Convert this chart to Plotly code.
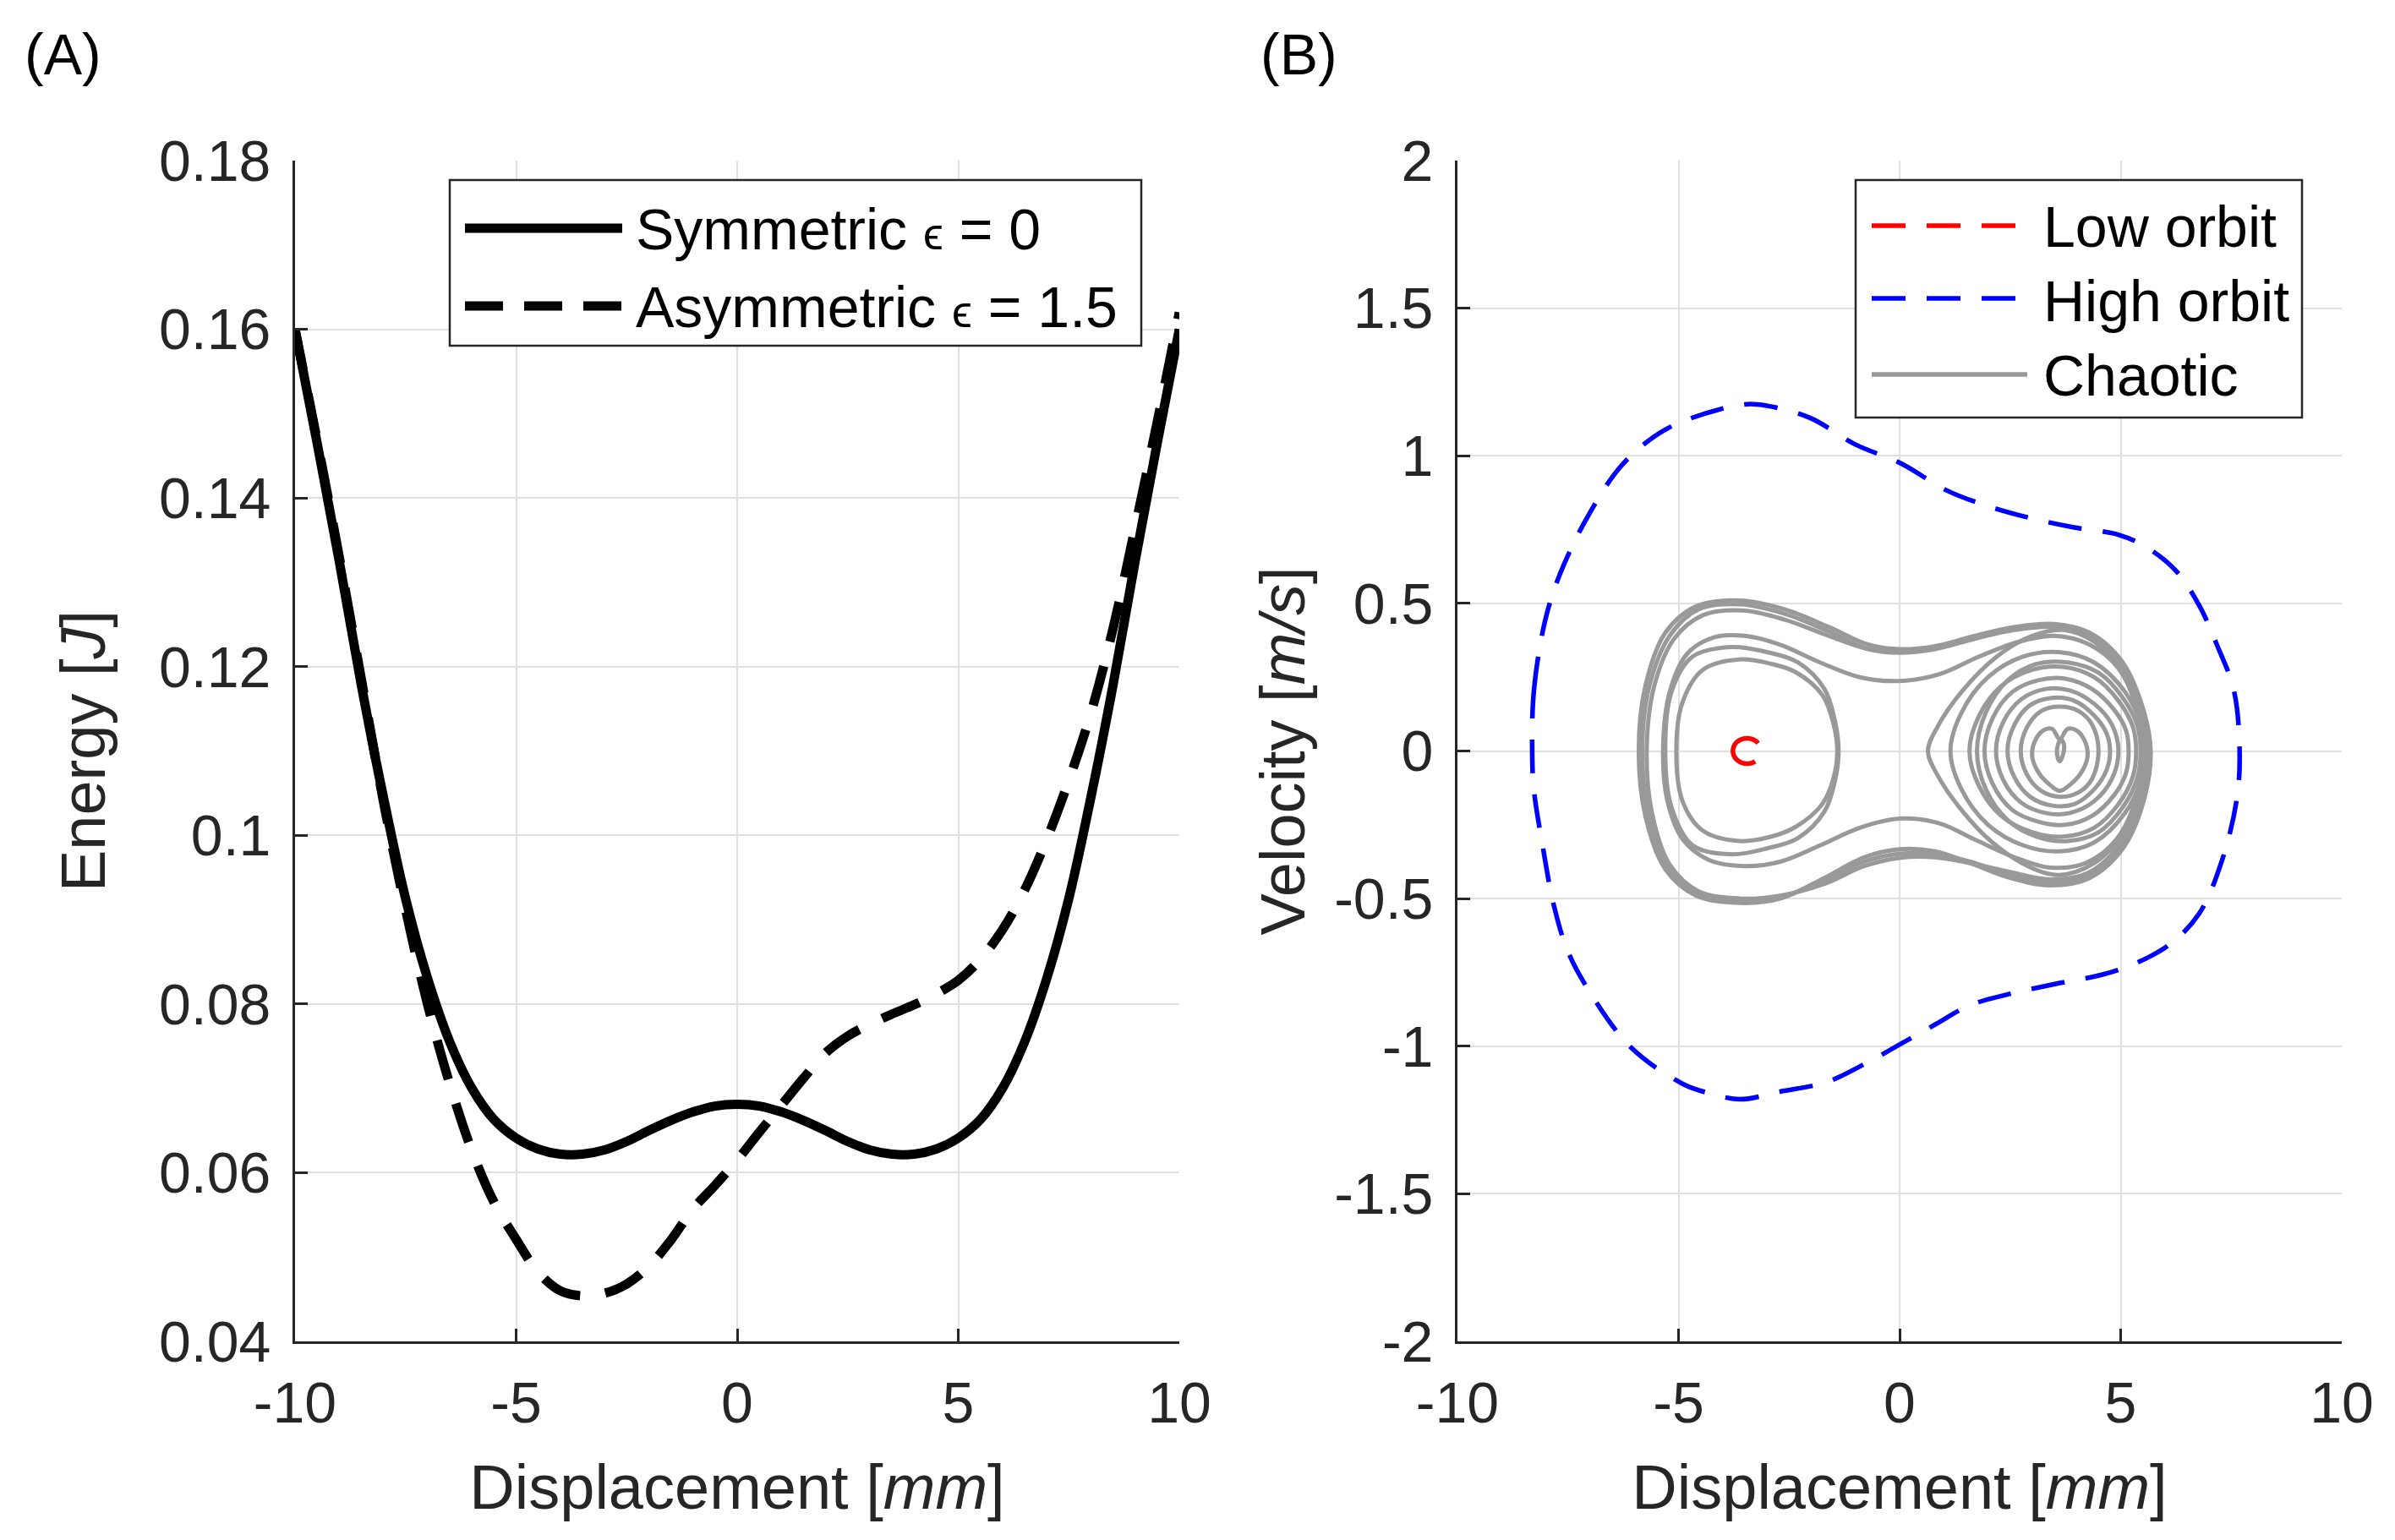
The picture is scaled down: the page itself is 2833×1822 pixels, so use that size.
import plotly.graph_objects as go

# ---------------- DATA ----------------
# Panel (A): potential energy vs displacement
disp_grid = [-10, -9.5, -9, -8.5, -8, -7.5, -7, -6.5, -6, -5.5, -5, -4.5, -4, -3.5, -3, -2.5, -2, -1.5, -1, -0.5,
             0, 0.5, 1, 1.5, 2, 2.5, 3, 3.5, 4, 4.5, 5, 5.5, 6, 6.5, 7, 7.5, 8, 8.5, 9, 9.5, 10]
energy_sym = [0.160, 0.1465, 0.1325, 0.1178, 0.1045, 0.0925, 0.0830, 0.0755, 0.0700, 0.0663, 0.0641, 0.0628,
              0.0622, 0.0622, 0.0627, 0.0637, 0.0650, 0.0662, 0.0672, 0.0679,
              0.0681, 0.0679, 0.0672, 0.0662, 0.0650, 0.0637, 0.0627, 0.0622, 0.0622, 0.0628, 0.0641,
              0.0663, 0.0700, 0.0755, 0.0830, 0.0925, 0.1045, 0.1178, 0.1325, 0.1465, 0.160]
energy_asym = [0.160, 0.1468, 0.1330, 0.1185, 0.1040, 0.0912, 0.0799, 0.0705, 0.0626, 0.0565, 0.0521, 0.0482,
               0.0460, 0.0454, 0.0457, 0.0468, 0.0489, 0.0520, 0.0557, 0.0585,
               0.0615, 0.0648, 0.0680, 0.0712, 0.0742, 0.0762, 0.0776, 0.0788, 0.0799, 0.0812, 0.0828,
               0.0853, 0.0888, 0.0935, 0.0995, 0.1065, 0.1145, 0.1245, 0.1365, 0.1490, 0.1620]

# Panel (B): phase portraits (displacement mm, velocity m/s)
low_x = [-3.695, -3.751, -3.77, -3.751, -3.695, -3.61, -3.506, -3.394, -3.29, -3.205, -3.149, -3.13,
         -3.149, -3.205, -3.29, -3.394, -3.506, -3.61, -3.695]
low_v = [0.028, 0.0147, 0.0, -0.0147, -0.0276, -0.0372, -0.0423, -0.0423, -0.0372, -0.0276, -0.0147, 0.0,
         0.0147, 0.0276, 0.0372, 0.0423, 0.0423, 0.0372, 0.028]

high_x = [-8.31, -8.27, -8.02, -7.69, -7.11, -6.33, -5.55, -4.90, -3.73, -3.22, -2.05, -1.01, 0.03, 1.06, 1.97,
          2.88, 3.92, 4.96, 5.61, 6.26, 6.78, 7.17, 7.56, 7.69, 7.63, 7.30, 6.78, 6.12, 5.34, 4.57, 3.53, 2.49,
          1.58, 0.80, 0.03, -0.75, -1.66, -2.70, -3.61, -4.26, -4.90, -6.07, -6.98, -7.50, -7.82, -8.08, -8.27,
          -8.31]
high_v = [0.0, 0.206, 0.44, 0.596, 0.779, 0.96, 1.065, 1.117, 1.169, 1.174, 1.13, 1.039, 0.974, 0.883, 0.831,
          0.792, 0.758, 0.732, 0.688, 0.609, 0.492, 0.362, 0.206, 0.0, -0.159, -0.367, -0.55, -0.654, -0.719,
          -0.758, -0.789, -0.823, -0.862, -0.927, -0.992, -1.057, -1.122, -1.154, -1.18, -1.161, -1.128, -1.005,
          -0.823, -0.68, -0.523, -0.315, -0.133, 0.0]

# Chaotic trajectory, read loop by loop
outer1_x = [-5.90, -5.75, -5.30, -4.60, -3.60, -2.60, -1.60, -0.70, 0.00, 0.80, 1.70, 2.60, 3.50, 4.30, 5.00, 5.45,
            5.68, 5.50, 5.05, 4.30, 3.40, 2.50, 1.60, 0.80, 0.00, -0.80, -1.70, -2.70, -3.60, -4.60, -5.30, -5.75,
            -5.90]
outer1_v = [0.00, 0.22, 0.40, 0.49, 0.51, 0.48, 0.42, 0.36, 0.345, 0.355, 0.39, 0.42, 0.43, 0.40, 0.31, 0.17,
            0.00, -0.18, -0.33, -0.43, -0.455, -0.43, -0.38, -0.34, -0.333, -0.36, -0.43, -0.50, -0.515, -0.49,
            -0.40, -0.22, 0.00]
outer2_x = [-5.82, -5.66, -5.20, -4.55, -3.60, -2.60, -1.60, -0.70, 0.00, 0.80, 1.70, 2.60, 3.50, 4.30, 4.98, 5.40,
            5.60, 5.45, 5.00, 4.30, 3.40, 2.50, 1.60, 0.80, 0.00, -0.80, -1.70, -2.70, -3.60, -4.60, -5.25, -5.68,
            -5.82]
outer2_v = [0.00, 0.22, 0.39, 0.48, 0.497, 0.465, 0.405, 0.345, 0.333, 0.345, 0.38, 0.41, 0.42, 0.39, 0.30, 0.16,
            0.00, -0.17, -0.32, -0.42, -0.445, -0.42, -0.375, -0.35, -0.348, -0.375, -0.44, -0.495, -0.505, -0.48,
            -0.39, -0.21, 0.00]
outer3_x = [-5.72, -5.55, -5.10, -4.45, -3.55, -2.60, -1.60, -0.70, 0.00, 0.80, 1.70, 2.60, 3.50, 4.30, 4.95, 5.38,
            5.58, 5.42, 4.98, 4.30, 3.40, 2.50, 1.60, 0.80, 0.00, -0.80, -1.70, -2.70, -3.60, -4.55, -5.20, -5.60,
            -5.72]
outer3_v = [0.00, 0.22, 0.38, 0.46, 0.476, 0.445, 0.39, 0.345, 0.338, 0.35, 0.385, 0.412, 0.422, 0.395, 0.305,
            0.165, 0.00, -0.17, -0.315, -0.41, -0.435, -0.41, -0.38, -0.36, -0.362, -0.39, -0.45, -0.49, -0.50,
            -0.475, -0.385, -0.21, 0.00]
middle_x = [-5.35, -5.20, -4.80, -4.20, -3.50, -2.70, -1.80, -0.90, 0.00, 0.90, 1.80, 2.70, 3.50, 4.30, 4.95, 5.35,
            5.50, 5.35, 4.90, 4.20, 3.40, 2.60, 1.70, 0.90, 0.00, -0.90, -1.80, -2.70, -3.50, -4.30, -4.90, -5.25,
            -5.35]
middle_v = [0.00, 0.20, 0.33, 0.385, 0.39, 0.36, 0.30, 0.25, 0.237, 0.26, 0.32, 0.37, 0.39, 0.36, 0.28, 0.15,
            0.00, -0.16, -0.30, -0.38, -0.395, -0.36, -0.30, -0.245, -0.229, -0.26, -0.32, -0.375, -0.39, -0.37,
            -0.30, -0.17, 0.00]
left1_x = [-5.05, -4.91, -4.45, -3.63, -2.90, -2.35, -1.75, -1.50, -1.41, -1.50, -1.75, -2.35, -2.90, -3.63, -4.45,
           -4.91, -5.05]
left1_v = [0.00, 0.165, 0.275, 0.31, 0.295, 0.267, 0.19, 0.095, 0.00, -0.095, -0.18, -0.257, -0.29, -0.305, -0.27,
           -0.17, 0.00]
left2_x = [-5.30, -5.16, -4.68, -3.80, -3.00, -2.30, -1.70, -1.46, -1.38, -1.46, -1.70, -2.30, -3.00, -3.80, -4.68,
           -5.16, -5.30]
left2_v = [0.00, 0.20, 0.32, 0.352, 0.335, 0.30, 0.21, 0.10, 0.00, -0.10, -0.205, -0.295, -0.33, -0.35, -0.32,
           -0.19, 0.00]
right1_x = [0.64, 0.85, 1.40, 2.20, 3.00, 3.70, 4.40, 5.05, 5.50, 5.62, 5.50, 5.05, 4.40, 3.60, 2.90, 2.10, 1.40,
            0.85, 0.64]
right1_v = [0.00, 0.08, 0.20, 0.32, 0.39, 0.41, 0.37, 0.27, 0.13, 0.00, -0.14, -0.28, -0.38, -0.42, -0.39, -0.31,
            -0.20, -0.08, 0.00]
right2_x = [1.15, 1.40, 2.00, 2.80, 3.60, 4.40, 5.10, 5.45, 5.52, 5.45, 5.10, 4.40, 3.60, 2.80, 2.00, 1.40, 1.15]
right2_v = [0.00, 0.13, 0.25, 0.32, 0.335, 0.30, 0.20, 0.09, 0.00, -0.10, -0.21, -0.31, -0.34, -0.32, -0.25, -0.13,
            0.00]
right3_x = [1.58, 1.80, 2.30, 3.00, 3.70, 4.40, 4.95, 5.28, 5.35, 5.28, 4.95, 4.40, 3.70, 3.00, 2.30, 1.80, 1.58]
right3_v = [0.00, 0.12, 0.22, 0.275, 0.285, 0.25, 0.17, 0.08, 0.00, -0.085, -0.18, -0.26, -0.29, -0.275, -0.22,
            -0.12, 0.00]
right3b_x = [1.75, 1.95, 2.45, 3.10, 3.80, 4.50, 5.05, 5.38, 5.45, 5.38, 5.05, 4.50, 3.80, 3.10, 2.45, 1.95, 1.75]
right3b_v = [0.00, 0.13, 0.24, 0.295, 0.30, 0.265, 0.18, 0.085, 0.00, -0.09, -0.19, -0.275, -0.305, -0.29, -0.235,
             -0.13, 0.00]
right4_x = [1.92, 2.10, 2.55, 3.15, 3.75, 4.35, 4.85, 5.12, 5.18, 5.12, 4.85, 4.35, 3.75, 3.15, 2.55, 2.10, 1.92]
right4_v = [0.00, 0.11, 0.20, 0.24, 0.245, 0.21, 0.14, 0.07, 0.00, -0.075, -0.15, -0.22, -0.25, -0.24, -0.20,
            -0.11, 0.00]
right5_x = [2.18, 2.35, 2.75, 3.30, 3.85, 4.40, 4.80, 4.95, 4.80, 4.40, 3.85, 3.30, 2.75, 2.35, 2.18]
right5_v = [0.00, 0.10, 0.175, 0.21, 0.205, 0.16, 0.09, 0.00, -0.095, -0.17, -0.21, -0.21, -0.175, -0.10, 0.00]
right6_x = [2.44, 2.60, 2.95, 3.45, 3.95, 4.40, 4.68, 4.76, 4.68, 4.40, 3.95, 3.45, 2.95, 2.60, 2.44]
right6_v = [0.00, 0.09, 0.155, 0.18, 0.17, 0.12, 0.06, 0.00, -0.065, -0.13, -0.18, -0.185, -0.155, -0.09, 0.00]
right7_x = [2.74, 2.88, 3.20, 3.62, 4.05, 4.35, 4.50, 4.35, 4.05, 3.62, 3.20, 2.88, 2.74]
right7_v = [0.00, 0.08, 0.135, 0.15, 0.135, 0.09, 0.00, -0.095, -0.14, -0.155, -0.135, -0.08, 0.00]
heart_x = [3.62, 3.45, 3.25, 3.05, 3.00, 3.15, 3.40, 3.62, 3.85, 4.10, 4.25, 4.20, 4.00, 3.80, 3.62]
heart_v = [0.04, 0.075, 0.07, 0.03, -0.02, -0.075, -0.115, -0.135, -0.115, -0.075, -0.02, 0.03, 0.07, 0.075, 0.04]
tiny_x = [3.65, 3.58, 3.56, 3.62, 3.70, 3.72, 3.65]
tiny_v = [0.04, 0.02, -0.01, -0.035, -0.01, 0.02, 0.04]

chaotic_loops_x = [outer1_x, outer2_x, outer3_x, middle_x, left1_x, left2_x, right1_x, right2_x, right3_x,
                   right3b_x, right4_x, right5_x, right6_x, right7_x, heart_x, tiny_x]
chaotic_loops_v = [outer1_v, outer2_v, outer3_v, middle_v, left1_v, left2_v, right1_v, right2_v, right3_v,
                   right3b_v, right4_v, right5_v, right6_v, right7_v, heart_v, tiny_v]

x_ticks = [-10, -5, 0, 5, 10]
x_tick_text = ["-10", "-5", "0", "5", "10"]
e_ticks = [0.04, 0.06, 0.08, 0.10, 0.12, 0.14, 0.16, 0.18]
e_tick_text = ["0.04", "0.06", "0.08", "0.1", "0.12", "0.14", "0.16", "0.18"]
v_ticks = [-2, -1.5, -1, -0.5, 0, 0.5, 1, 1.5, 2]
v_tick_text = ["-2", "-1.5", "-1", "-0.5", "0", "0.5", "1", "1.5", "2"]

# ---------------- FIGURE ----------------
W, H = 2833, 1822
OFF = 8  # page body margin
FONT = "Liberation Sans, Arial, Helvetica, sans-serif"
AX = "#262626"
EPS = '<span style="font-size:54px">ϵ</span>'


def px(xp):
    return (xp - OFF) / W


def py(yp):
    return 1 - (yp - OFF) / H


chaos_x, chaos_v = [], []
for lx, lv in zip(chaotic_loops_x, chaotic_loops_v):
    chaos_x += lx + [None]
    chaos_v += lv + [None]

fig = go.Figure()
fig.add_trace(go.Scatter(x=disp_grid, y=energy_sym, mode="lines", name="Symmetric ϵ = 0",
                         line=dict(color="black", width=11, shape="spline"), xaxis="x", yaxis="y"))
fig.add_trace(go.Scatter(x=disp_grid, y=energy_asym, mode="lines", name="Asymmetric ϵ = 1.5",
                         line=dict(color="black", width=11, dash="48px,30px", shape="spline"),
                         xaxis="x", yaxis="y"))
fig.add_trace(go.Scatter(x=chaos_x, y=chaos_v, mode="lines", name="Chaotic", connectgaps=False,
                         line=dict(color="#999999", width=5, shape="spline"), xaxis="x2", yaxis="y2"))
fig.add_trace(go.Scatter(x=high_x, y=high_v, mode="lines", name="High orbit",
                         line=dict(color="#0000ff", width=5.5, dash="40px,25px", shape="spline"),
                         xaxis="x2", yaxis="y2"))
fig.add_trace(go.Scatter(x=low_x, y=low_v, mode="lines", name="Low orbit",
                         line=dict(color="#ff0000", width=5.5, dash="40px,25px", shape="spline"),
                         xaxis="x2", yaxis="y2"))

axis_common = dict(showline=True, linecolor=AX, linewidth=3, mirror=False, ticks="inside", ticklen=15,
                   tickwidth=3, tickcolor=AX, showgrid=True, gridcolor="#e0e0e0", gridwidth=2, zeroline=False,
                   automargin=False, tickfont=dict(size=68, color=AX, family=FONT))

xdom1 = [px(349), px(1395)]
xdom2 = [px(1724), px(2770)]
ydom = [py(1587), py(190)]

fig.update_layout(
    width=W, height=H, margin=dict(l=0, r=0, t=0, b=0, autoexpand=False), paper_bgcolor="white",
    plot_bgcolor="white", showlegend=False, font=dict(family=FONT, color=AX),
    xaxis=dict(domain=xdom1, range=[-10, 10], tickvals=x_ticks, ticktext=x_tick_text, anchor="y",
               ticklabelstandoff=11,
               title=dict(text="Displacement [<i>mm</i>]", font=dict(size=74, color=AX, family=FONT), standoff=38),
               **axis_common),
    yaxis=dict(domain=ydom, range=[0.04, 0.18], tickvals=e_ticks, ticktext=e_tick_text, anchor="x",
               ticklabelstandoff=12,
               title=dict(text="Energy [<i>J</i>]", font=dict(size=74, color=AX, family=FONT), standoff=40),
               **axis_common),
    xaxis2=dict(domain=xdom2, range=[-10, 10], tickvals=x_ticks, ticktext=x_tick_text, anchor="y2",
                ticklabelstandoff=11,
                title=dict(text="Displacement [<i>mm</i>]", font=dict(size=74, color=AX, family=FONT), standoff=38),
                **axis_common),
    yaxis2=dict(domain=ydom, range=[-2, 2], tickvals=v_ticks, ticktext=v_tick_text, anchor="x2",
                ticklabelstandoff=12,
                title=dict(text="Velocity [<i>m/s</i>]", font=dict(size=74, color=AX, family=FONT), standoff=11),
                **axis_common),
)

shapes = []
annotations = []

# Panel labels
annotations.append(dict(text="(A)", x=px(27), y=py(64), xref="paper", yref="paper", xanchor="left",
                        yanchor="middle", showarrow=False, font=dict(size=68, color="black", family=FONT)))
annotations.append(dict(text="(B)", x=px(1489), y=py(64), xref="paper", yref="paper", xanchor="left",
                        yanchor="middle", showarrow=False, font=dict(size=68, color="black", family=FONT)))

# Legend (A)
shapes.append(dict(type="rect", xref="paper", yref="paper", x0=px(532), x1=px(1350), y0=py(409), y1=py(213),
                   line=dict(color=AX, width=2.5), fillcolor="white", layer="above"))
shapes.append(dict(type="line", xref="paper", yref="paper", x0=px(550), x1=px(736), y0=py(270), y1=py(270),
                   line=dict(color="black", width=11)))
shapes.append(dict(type="line", xref="paper", yref="paper", x0=px(550), x1=px(736), y0=py(362), y1=py(362),
                   line=dict(color="black", width=11, dash="45px,25px")))
annotations.append(dict(text="Symmetric " + EPS + " = 0", x=px(750), y=py(271), xref="paper", yref="paper",
                        xanchor="left", yanchor="middle", showarrow=False,
                        font=dict(size=68, color="black", family=FONT)))
annotations.append(dict(text="Asymmetric " + EPS + " = 1.5", x=px(750), y=py(363), xref="paper", yref="paper",
                        xanchor="left", yanchor="middle", showarrow=False,
                        font=dict(size=68, color="black", family=FONT)))

# Legend (B)
shapes.append(dict(type="rect", xref="paper", yref="paper", x0=px(2195), x1=px(2723), y0=py(494), y1=py(213),
                   line=dict(color=AX, width=2.5), fillcolor="white", layer="above"))
shapes.append(dict(type="line", xref="paper", yref="paper", x0=px(2214), x1=px(2385), y0=py(267), y1=py(267),
                   line=dict(color="#ff0000", width=5.5, dash="40px,25px")))
shapes.append(dict(type="line", xref="paper", yref="paper", x0=px(2214), x1=px(2385), y0=py(353), y1=py(353),
                   line=dict(color="#0000ff", width=5.5, dash="40px,25px")))
shapes.append(dict(type="line", xref="paper", yref="paper", x0=px(2214), x1=px(2398), y0=py(443), y1=py(443),
                   line=dict(color="#999999", width=5.5)))
for label, yy in [("Low orbit", 268), ("High orbit", 356), ("Chaotic", 444)]:
    annotations.append(dict(text=label, x=px(2415), y=py(yy), xref="paper", yref="paper", xanchor="left",
                            yanchor="middle", showarrow=False, font=dict(size=68, color="black", family=FONT)))

fig.update_layout(shapes=shapes, annotations=annotations)
fig.write_html("out.html")
